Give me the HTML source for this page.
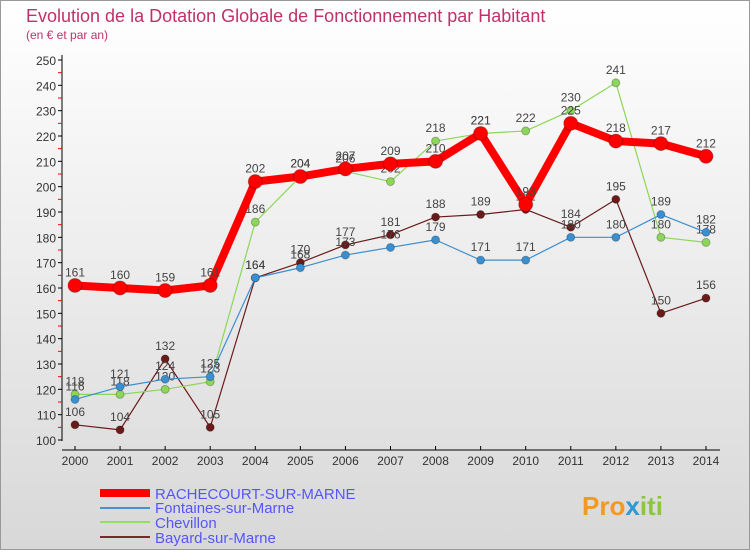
<!DOCTYPE html>
<html><head><meta charset="utf-8"><style>
body{margin:0;width:750px;height:550px;overflow:hidden;font-family:"Liberation Sans",sans-serif}
</style></head><body>
<svg width="750" height="550" xmlns="http://www.w3.org/2000/svg">
<defs><linearGradient id="bg" x1="0" y1="0" x2="0" y2="1"><stop offset="0" stop-color="#ffffff"/><stop offset="1" stop-color="#d8d8d8"/></linearGradient></defs>
<rect x="0.5" y="0.5" width="749" height="549" fill="url(#bg)" stroke="#999"/>
<text x="26" y="22" font-size="18" fill="#c0306a">Evolution de la Dotation Globale de Fonctionnement par Habitant</text>
<text x="26" y="39" font-size="12" fill="#c0306a">(en € et par an)</text>
<g id="axes"></g>
<g id="series"></g>
<g id="legend">
<line x1="100" y1="493" x2="150" y2="493" stroke="#f00" stroke-width="8"/>
<text x="155" y="499" font-size="15" fill="#55f">RACHECOURT-SUR-MARNE</text>
<line x1="100" y1="508" x2="150" y2="508" stroke="#4a90d0" stroke-width="2"/>
<text x="155" y="513" font-size="15" fill="#55f">Fontaines-sur-Marne</text>
<line x1="100" y1="522" x2="150" y2="522" stroke="#90e060" stroke-width="2"/>
<text x="155" y="528" font-size="15" fill="#55f">Chevillon</text>
<line x1="100" y1="537" x2="150" y2="537" stroke="#7a2a2a" stroke-width="2"/>
<text x="155" y="543" font-size="15" fill="#55f">Bayard-sur-Marne</text>
</g>
<text x="582" y="515" font-size="26" font-weight="bold" fill="#f39a1e">Pro<tspan fill="#2a9ad8">x</tspan><tspan fill="#8cc63f">iti</tspan></text>
</svg>
<script>
const years=[2000,2001,2002,2003,2004,2005,2006,2007,2008,2009,2010,2011,2012,2013,2014];
const rachecourt=[161,160,159,161,202,204,207,209,210,221,193,225,218,217,212];
const fontaines=[116,121,124,125,164,168,173,176,179,171,171,180,180,189,182];
const chevillon=[118,118,120,123,186,204,206,202,218,221,222,230,241,180,178];
const bayard=[106,104,132,105,164,170,177,181,188,189,191,184,195,150,156];
const yTicks=[100,110,120,130,140,150,160,170,180,190,200,210,220,230,240,250];
const NS="http://www.w3.org/2000/svg";
const X=i=>75+i*45.07, Y=v=>440-(v-100)*380/150;
function mk(t,a,p){const e=document.createElementNS(NS,t);for(const k in a)e.setAttribute(k,a[k]);p.appendChild(e);return e;}
const ax=document.getElementById('axes');
const yl=mk('line',{x1:62,y1:55,x2:62,y2:441,stroke:'#000'},ax);


const xl=mk('line',{x1:62,y1:450,x2:720,y2:450,stroke:'#000'},ax);


yTicks.forEach(v=>{
 mk('line',{x1:58,y1:Y(v),x2:62,y2:Y(v),stroke:'#000'},ax);
 if(v<250)mk('line',{x1:58,y1:Y(v+5),x2:62,y2:Y(v+5),stroke:'#f00'},ax);
 const t=mk('text',{x:56,y:Y(v)+5,'font-size':12,'text-anchor':'end',fill:'#333'},ax);t.textContent=v;
 
 
});
years.forEach((y,i)=>{
 mk('line',{x1:X(i),y1:446,x2:X(i),y2:450,stroke:'#000'},ax);
 const t=mk('text',{x:X(i),y:465,'font-size':12,'text-anchor':'middle',fill:'#333'},ax);t.textContent=y;
 
 
});
const sg=document.getElementById('series');
function series(d,col,w,r,name){
 const g=mk('g',{},sg);
 
 
 mk('polyline',{points:d.map((v,i)=>X(i)+','+Y(v)).join(' '),fill:'none',stroke:col,'stroke-width':w,'stroke-linejoin':'round'},g);
 d.forEach((v,i)=>{
  const c=mk('circle',{cx:X(i),cy:Y(v),r:r,fill:col,stroke:'rgba(0,0,0,0.25)'},g);
  
  
  const t=mk('text',{x:X(i),y:Y(v)-9,'font-size':12,'text-anchor':'middle',fill:'#444'},g);t.textContent=v;
  
  
 });
}
series(bayard,'#6b1a1a',1.2,4,'series-bayard');
series(chevillon,'#8cd65a',1.2,4,'series-chevillon');
series(fontaines,'#3a8fd0',1.2,4,'series-fontaines');
series(rachecourt,'#f00',8,7,'series-rachecourt');
</script>
</body></html>
